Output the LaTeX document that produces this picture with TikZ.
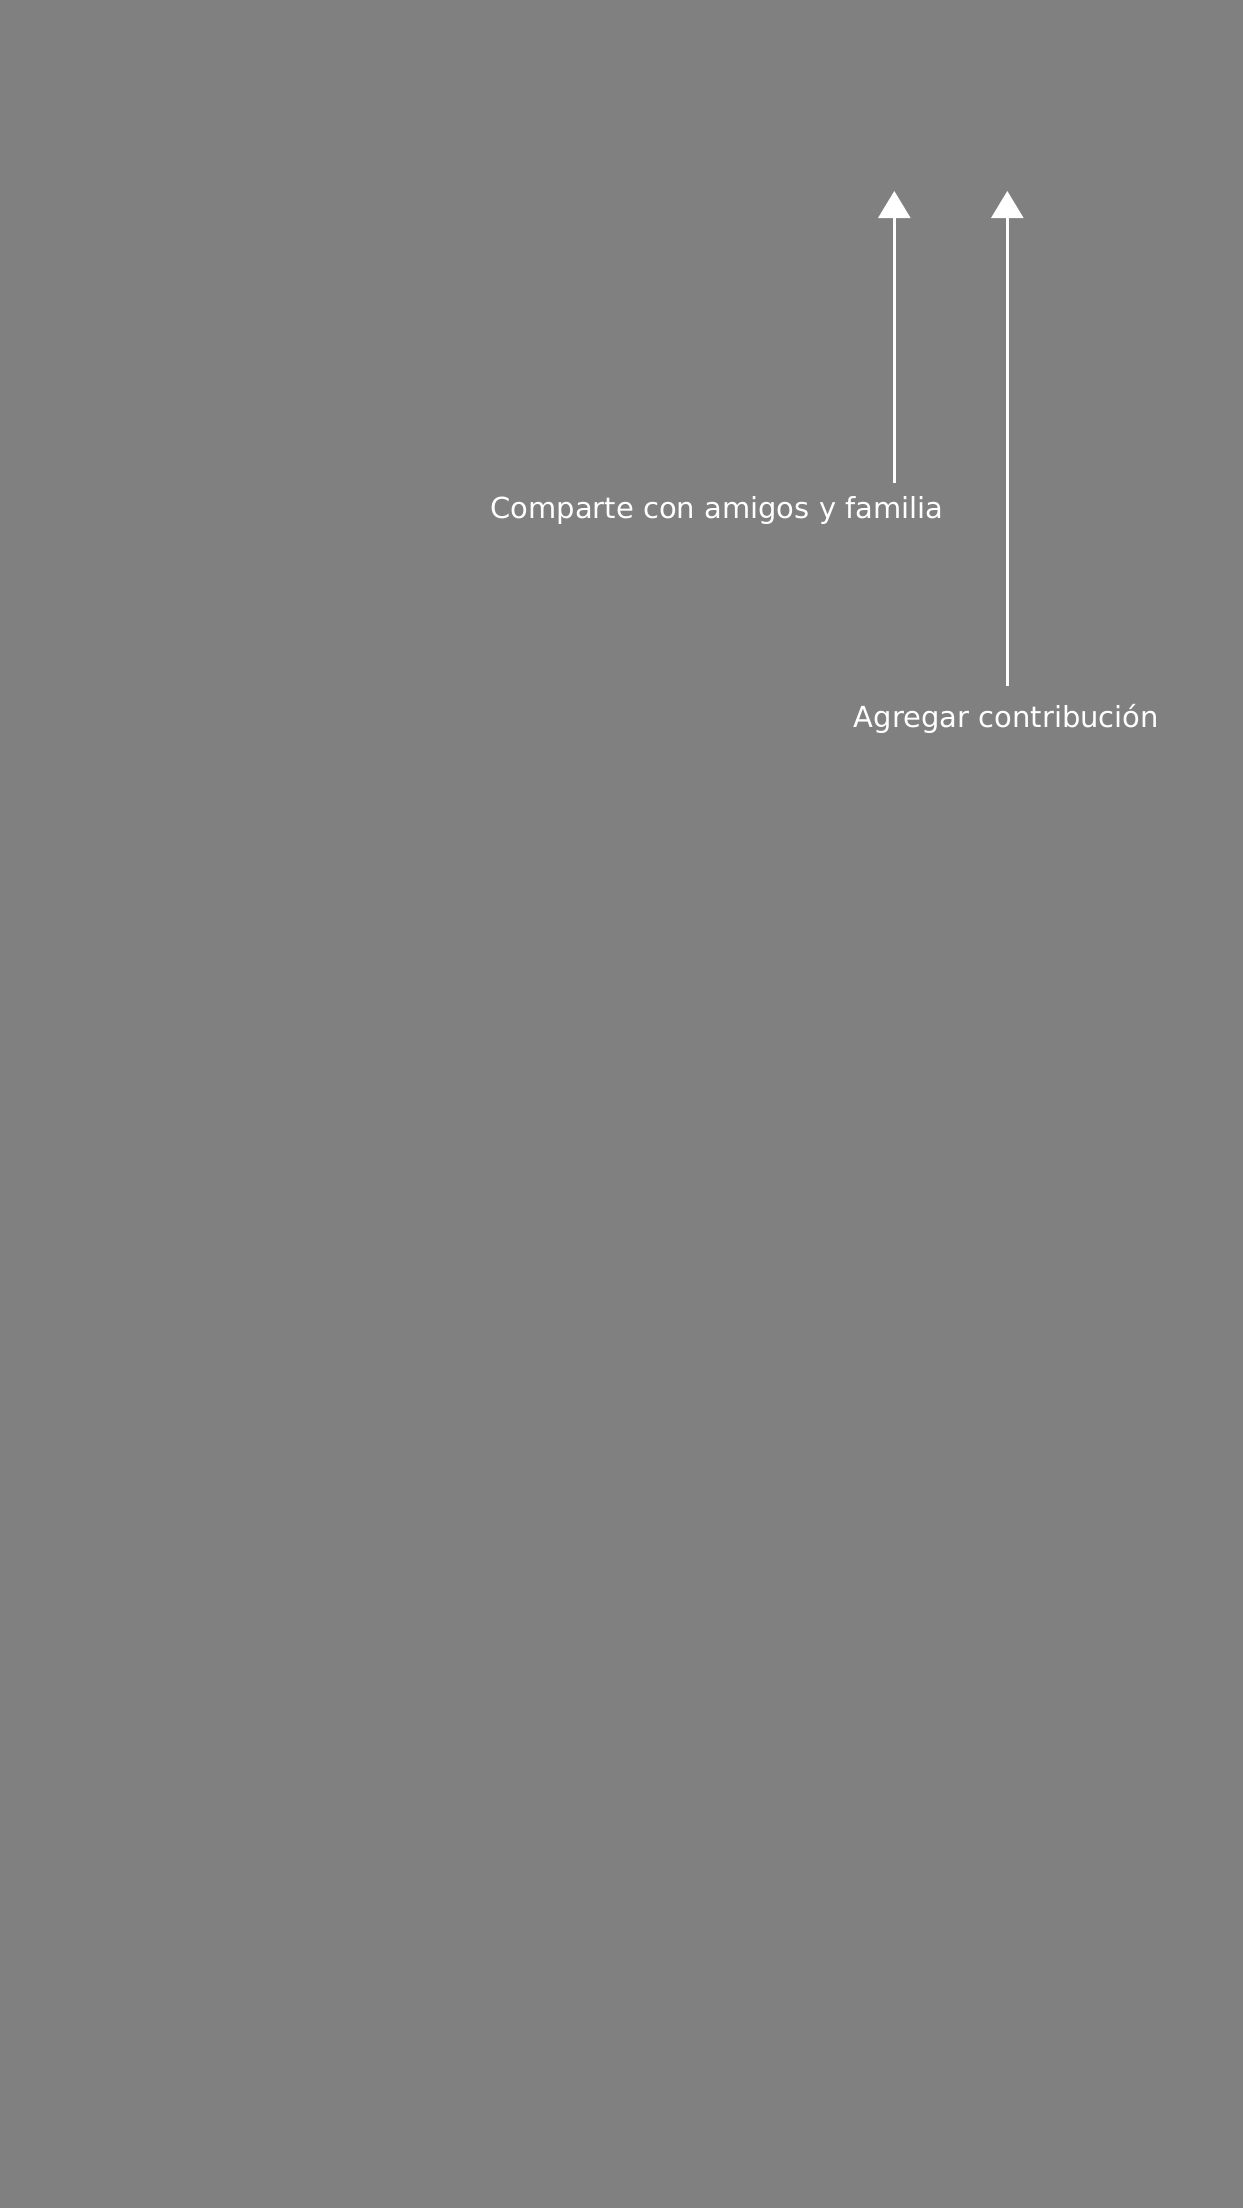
\documentclass[tikz,border=0pt]{standalone}
\usepackage{fontspec}
\setmainfont{DejaVu Sans}
\usetikzlibrary{arrows.meta}
\definecolor{canvas}{HTML}{808080}
\begin{document}
\begin{tikzpicture}[x=1pt,y=-1pt,
  pointer/.style={draw=white,line width=2.5pt,-{Triangle[width=32pt,length=27pt]}},
  caption/.style={text=white,font=\fontsize{29}{35}\selectfont,inner sep=0pt,anchor=base}]
\useasboundingbox (0,0) rectangle (1242,2208);
\fill[canvas] (-5,-5) rectangle (1247,2213);
\path
(894.3,483) coordinate (B1)
(894.3,191) coordinate (T1)
(1007.3,686) coordinate (B2)
(1007.3,191) coordinate (T2)
;
\node[caption] (share) at (717,518.3) {Comparte con amigos y familia};
\node[caption] (contrib) at (1006.5,727) {Agregar contribución};
\draw[pointer] (B1)--(T1);
\draw[pointer] (B2)--(T2);
\end{tikzpicture}
\end{document}
